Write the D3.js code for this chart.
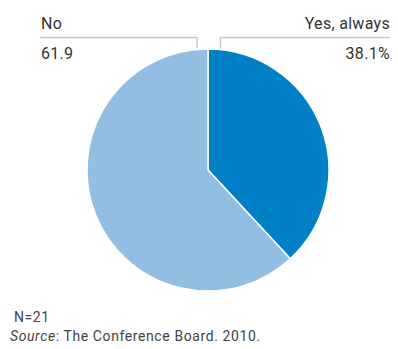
<!DOCTYPE html>
<html>
<head>
<meta charset="utf-8">
<script src="https://cdn.jsdelivr.net/npm/d3@7"></script>
<style>
  body { margin: 0; background: #fff; }
  svg { font-family: Roboto, "Liberation Sans", sans-serif; }
</style>
</head>
<body>
<svg width="398" height="349"></svg>
<script>
  const categories = ["Yes, always", "No"];
  const values = [38.1, 61.9];
  const valueLabels = ["38.1%", "61.9"];
  const colors = ["#0080c6", "#93bee4"];
  const note = "N=21";

  const svg = d3.select("svg");
  const cx = 208, cy = 170, r = 121;

  const pie = d3.pie().sort(null).value((d) => d);
  const arc = d3.arc().innerRadius(0).outerRadius(r);

  const g = svg.append("g").attr("transform", `translate(${cx},${cy})`);
  g.selectAll("path")
    .data(pie(values))
    .join("path")
    .attr("d", arc)
    .attr("fill", (d, i) => colors[i])
    .attr("stroke", "#fff")
    .attr("stroke-width", 1.5);

  // leader lines
  const lead = svg.append("g").attr("fill", "none").attr("stroke", "#c8c8c8").attr("stroke-width", 1.5);
  lead.append("path").attr("d", "M40,37.5H197V48");
  lead.append("path").attr("d", "M390,37.5H220.5V49");

  const txt = svg.append("g").attr("fill", "#333").attr("font-size", 16).attr("letter-spacing", 0.3);
  txt.append("text").attr("x", 41).attr("y", 29).text(categories[1]);
  txt.append("text").attr("x", 41).attr("y", 59).text(valueLabels[1]);
  txt.append("text").attr("x", 390).attr("y", 29).attr("text-anchor", "end").text(categories[0]);
  txt.append("text").attr("x", 390).attr("y", 59).attr("text-anchor", "end").text(valueLabels[0]);

  const foot = svg.append("g").attr("fill", "#444").attr("font-size", 14).attr("letter-spacing", 0.6);
  foot.append("text").attr("x", 14).attr("y", 322).text(note);
  const src = foot.append("text").attr("x", 10).attr("y", 341);
  src.append("tspan").attr("font-style", "italic").text("Source");
  src.append("tspan").text(": The Conference Board. 2010.");
</script>
</body>
</html>
